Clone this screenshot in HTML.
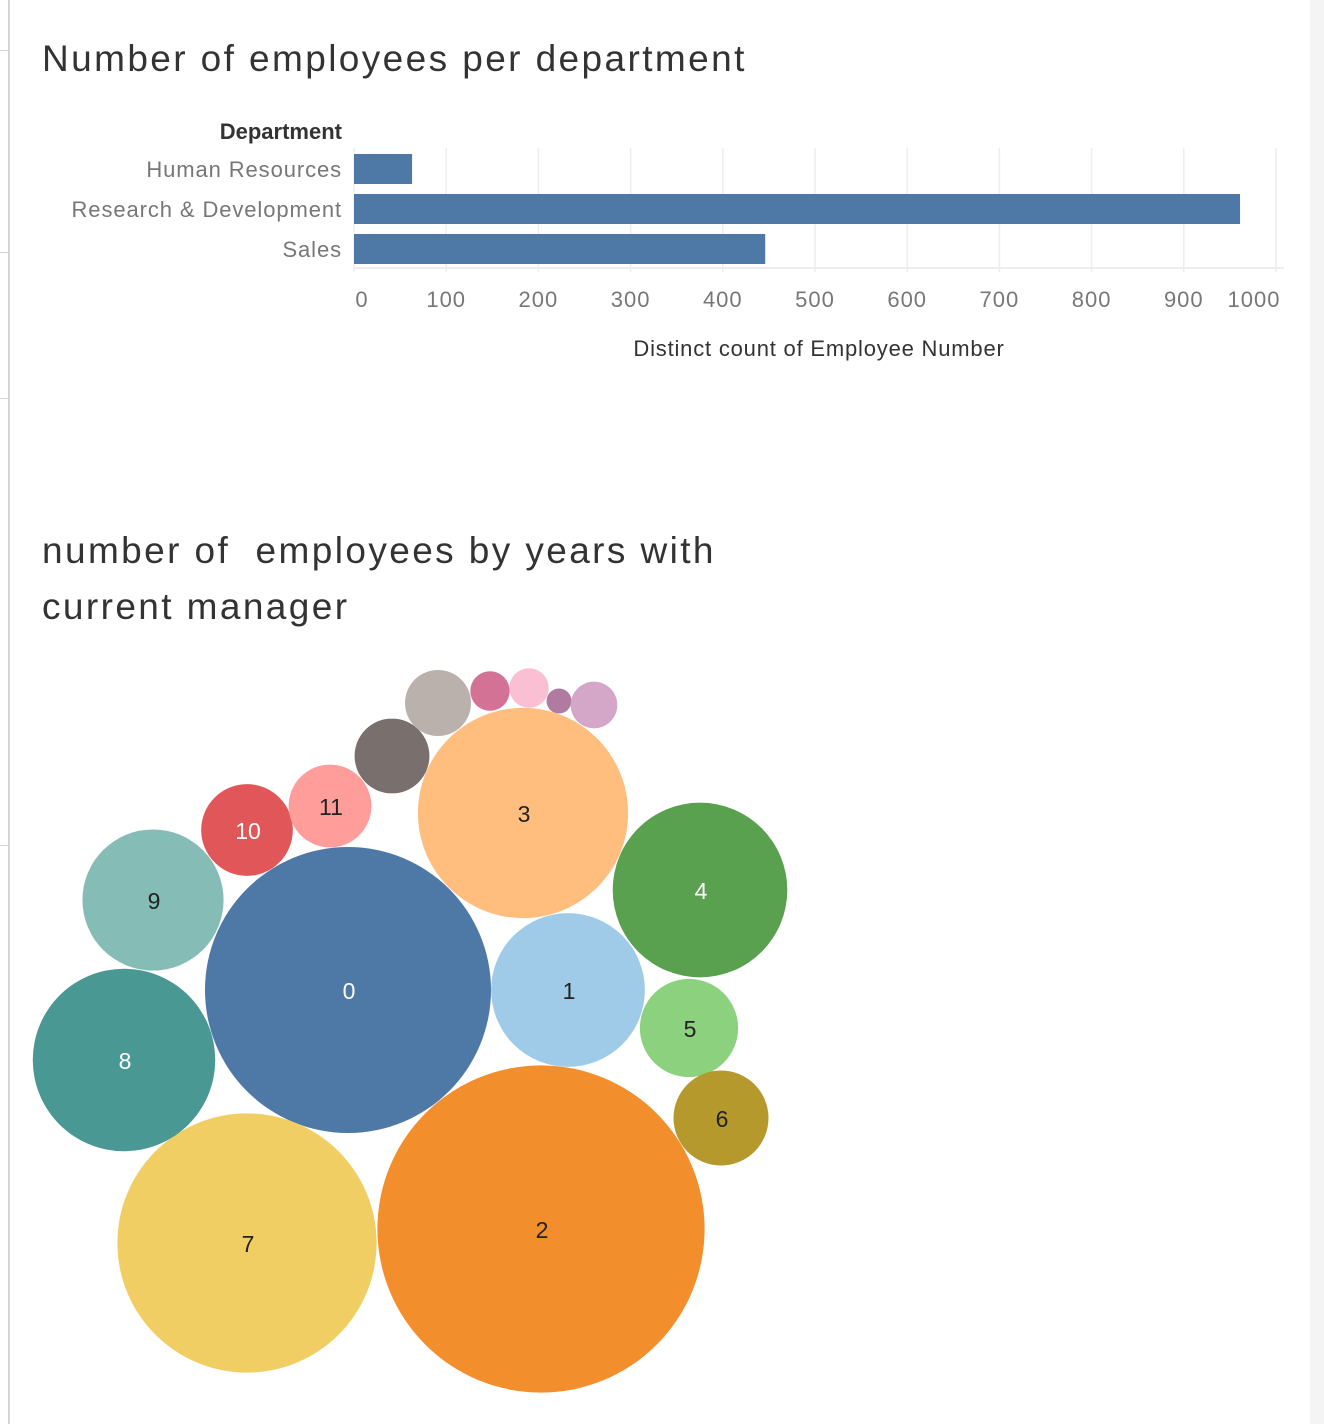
<!DOCTYPE html>
<html><head><meta charset="utf-8">
<style>
html,body{margin:0;padding:0;background:#fff;width:1324px;height:1424px;overflow:hidden;font-family:"Liberation Sans",sans-serif;}
#strip{position:absolute;left:1310px;top:0;width:14px;height:1424px;background:#f4f4f4;}
#leftline{position:absolute;left:8px;top:0;width:2px;height:1424px;background:#d4d4d4;}
.tk{position:absolute;left:0;width:8px;height:1px;background:#d4d4d4;}
.title{position:absolute;left:42px;color:#333;font-weight:300;font-size:37px;letter-spacing:2.4px;}
</style></head><body>
<div id="strip"></div>
<div id="leftline"></div>
<div class="tk" style="top:50px"></div>
<div class="tk" style="top:252px"></div>
<div class="tk" style="top:398px"></div>
<div class="tk" style="top:845px"></div>
<div class="title" style="top:38px">Number of employees per department</div>
<div class="title" style="top:523px;line-height:56px">number of &nbsp;employees by years with<br>current manager</div>
<svg id="bar" width="1324" height="400" style="position:absolute;left:0;top:0"></svg>
<svg id="bub" width="1324" height="1424" style="position:absolute;left:0;top:0;pointer-events:none"></svg>
<script>
const departments=["Human Resources","Research & Development","Sales"];
const counts=[63,961,446];
const ticks=[0,100,200,300,400,500,600,700,800,900,1000];
const years=["0","1","2","3","4","5","6","7","8","9","10","11","12","13","14","15","16","17"];
const yearCounts=[263,76,344,142,98,31,29,216,107,64,27,22,18,14,5,5,2,7];
const NS="http://www.w3.org/2000/svg";
function mk(p,t,a){const e=document.createElementNS(NS,t);for(const k in a)e.setAttribute(k,a[k]);p.appendChild(e);return e;}
const bar=document.getElementById('bar');
const x=v=>354+v*0.922;
ticks.forEach(t=>{
  const g=mk(bar,'line',{x1:x(t),x2:x(t),y1:148,y2:272,stroke:'#eee','stroke-width':1.5});
  
  
  const l=mk(bar,'text',{x:x(t)+(t===0?8:t===1000?-22:0),y:307,'text-anchor':'middle','font-size':22,fill:'#777','letter-spacing':1});
  l.textContent=t;
  
  
});
mk(bar,'line',{x1:354,x2:1284,y1:268,y2:268,stroke:'#eee','stroke-width':2});
let h=mk(bar,'text',{x:342,y:139,'text-anchor':'end','font-size':22,'font-weight':'bold',fill:'#333'});
h.textContent='Department';


departments.forEach((d,i)=>{
  const y=154+i*40;
  const r=mk(bar,'rect',{x:354,y:y,width:x(counts[i])-354,height:30,fill:'#4e79a7'});
  
  
  const t=mk(bar,'text',{x:342,y:y+23,'text-anchor':'end','font-size':22,fill:'#777','letter-spacing':0.9});
  t.textContent=d;
  
  
});
const at=mk(bar,'text',{x:819,y:356,'text-anchor':'middle','font-size':22,fill:'#333','letter-spacing':0.8});
at.textContent='Distinct count of Employee Number';



const bub=document.getElementById('bub');
const cx=[348,568,541,523,700,689,721,247,124,153,247,330,392,438,490,529,559,594];
const cy=[990,990,1229,813,890,1028,1118,1243,1060,900,830,806,756,703,691,688,701,705];
const colors=['#4e79a7','#a0cbe8','#f28e2b','#ffbe7d','#59a14f','#8cd17d','#b6992d','#f1ce63','#499894','#86bcb6','#e15759','#ff9d9a','#79706e','#bab0ac','#d37295','#fabfd2','#b07aa1','#d4a6c8'];
const dark=[1,0,0,0,1,0,0,0,1,0,1,0,1,0,1,0,1,0];
const k=8.82;
years.forEach((yv,i)=>{
  const r=k*Math.sqrt(yearCounts[i]);
  const c=mk(bub,'circle',{cx:cx[i],cy:cy[i],r:r,fill:colors[i]});
  
  
  if(i<12){
    const t=mk(bub,'text',{x:cx[i]+1,y:cy[i]+9,'text-anchor':'middle','font-size':23,fill:dark[i]?'#fff':'#222'});
    t.textContent=yv;
    
    
  }
});
</script>
</body></html>
